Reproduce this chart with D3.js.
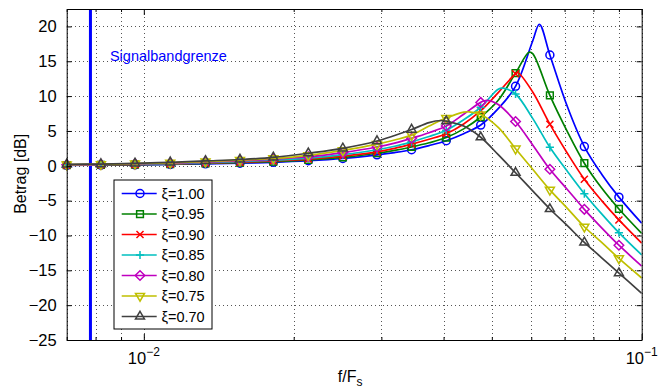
<!DOCTYPE html>
<html>
<head>
<meta charset="utf-8">
<script src="https://cdn.jsdelivr.net/npm/d3@7"></script>
<style>
  body { margin: 0; background: #fff; }
  text { font-family: "Liberation Sans", Arial, Helvetica, sans-serif; }
</style>
</head>
<body>
<svg id="chart" width="668" height="391"></svg>
<script>
// frequencies (f/Fs) where the markers sit
const markerFreq = [0.0070, 0.0082, 0.0096, 0.0113, 0.0133, 0.0156, 0.0182, 0.0214, 0.0251,
  0.0294, 0.0345, 0.0405, 0.0475, 0.0558, 0.0654, 0.0767, 0.0900];
// extra points of the curves (between markers and the right end)
const extraFreq = [0.0319, 0.0374, 0.0439, 0.0515, 0.0604, 0.0709, 0.0831, 0.1000];

const xiLabels = ['ξ=1.00', 'ξ=0.95', 'ξ=0.90', 'ξ=0.85', 'ξ=0.80', 'ξ=0.75', 'ξ=0.70'];

// Betrag [dB] at markerFreq
const dbXi100 = [0.06, 0.09, 0.13, 0.20, 0.28, 0.37, 0.50, 0.72, 1.05, 1.57, 2.30, 3.60, 5.85, 11.4, 15.9, 2.76, -4.50];
const dbXi095 = [0.08, 0.12, 0.17, 0.24, 0.34, 0.45, 0.60, 0.85, 1.20, 1.80, 2.70, 4.05, 7.00, 13.3, 10.1, 0.37, -6.20];
const dbXi090 = [0.10, 0.15, 0.20, 0.28, 0.40, 0.52, 0.70, 0.97, 1.40, 2.00, 3.10, 4.60, 7.90, 13.2, 5.97, -1.93, -7.77];
const dbXi085 = [0.12, 0.17, 0.23, 0.32, 0.45, 0.60, 0.80, 1.10, 1.60, 2.30, 3.45, 5.10, 8.40, 10.3, 2.65, -4.00, -9.60];
const dbXi080 = [0.15, 0.20, 0.27, 0.37, 0.52, 0.70, 0.95, 1.30, 1.90, 2.70, 3.95, 5.70, 9.10, 6.35, -0.50, -6.25, -11.4];
const dbXi075 = [0.18, 0.22, 0.30, 0.42, 0.60, 0.80, 1.05, 1.50, 2.20, 3.10, 4.40, 6.85, 7.35, 2.45, -3.45, -8.75, -13.3];
const dbXi070 = [0.20, 0.25, 0.35, 0.50, 0.70, 0.90, 1.20, 1.80, 2.50, 3.55, 5.20, 6.40, 4.10, -1.00, -6.20, -11.0, -15.4];

// Betrag [dB] at extraFreq
const extraXi100 = [1.90, 2.90, 4.60, 8.20, 17.9, 8.50, -1.20, -8.25];
const extraXi095 = [2.20, 3.30, 5.30, 9.40, 16.1, 4.90, -3.20, -9.70];
const extraXi090 = [2.50, 3.80, 6.00, 10.5, 10.6, 1.80, -5.00, -11.1];
const extraXi085 = [2.80, 4.20, 6.60, 11.0, 6.80, -0.80, -6.90, -12.8];
const extraXi080 = [3.25, 4.75, 7.40, 8.80, 3.00, -3.40, -8.90, -14.4];
const extraXi075 = [3.70, 5.70, 7.70, 5.50, -0.50, -6.10, -11.0, -16.1];
const extraXi070 = [4.35, 6.20, 5.70, 1.60, -3.60, -8.60, -13.2, -18.3];

// resonance peaks [f/Fs, dB]
const peakXi100 = [0.0623, 20.3];
const peakXi095 = [0.0594, 16.3];
const peakXi090 = [0.0564, 13.35];
const peakXi085 = [0.0527, 11.15];
const peakXi080 = [0.0488, 9.40];
const peakXi075 = [0.0450, 7.75];
const peakXi070 = [0.0395, 6.50];

const signalBandEdge = 0.0078125; // 1/128
const yTicks = [-25, -20, -15, -10, -5, 0, 5, 10, 15, 20];

const width = 668;
const height = 391;
const margin = { top: 9, right: 26.3, bottom: 51, left: 66.7 };
const innerW = width - margin.left - margin.right;
const innerH = height - margin.top - margin.bottom;

const x = d3.scaleLog().domain([0.007, 0.1]).range([0, innerW]);
const y = d3.scaleLinear().domain([-25, 22.5]).range([innerH, 0]);

const series = [
  { marks: dbXi100, extra: extraXi100, peak: peakXi100, color: '#0000ff', symbol: d3.symbolCircle, size: 50 },
  { marks: dbXi095, extra: extraXi095, peak: peakXi095, color: '#008000', symbol: d3.symbolSquare2, size: 58 },
  { marks: dbXi090, extra: extraXi090, peak: peakXi090, color: '#ff0000', symbol: d3.symbolX, size: 34 },
  { marks: dbXi085, extra: extraXi085, peak: peakXi085, color: '#00bfbf', symbol: d3.symbolPlus, size: 24 },
  { marks: dbXi080, extra: extraXi080, peak: peakXi080, color: '#bf00bf', symbol: d3.symbolDiamond2, size: 58 },
  { marks: dbXi075, extra: extraXi075, peak: peakXi075, color: '#bfbf00', symbol: d3.symbolTriangle2, size: 58, flip: true },
  { marks: dbXi070, extra: extraXi070, peak: peakXi070, color: '#404040', symbol: d3.symbolTriangle2, size: 58 },
];
series.forEach((s, i) => { s.label = xiLabels[i]; });

const svg = d3.select('#chart');
const g = svg.append('g').attr('transform', `translate(${margin.left},${margin.top})`);

svg.append('defs').append('clipPath').attr('id', 'plotclip')
  .append('rect').attr('width', innerW).attr('height', innerH);

// dotted grid
g.append('g')
  .call(d3.axisBottom(x).tickSize(innerH).tickFormat(''))
  .call((a) => a.select('.domain').remove())
  .selectAll('line')
  .attr('stroke', '#555').attr('stroke-dasharray', '1,3').attr('shape-rendering', 'crispEdges');
g.append('g')
  .call(d3.axisLeft(y).tickValues(yTicks).tickSize(-innerW).tickFormat(''))
  .call((a) => a.select('.domain').remove())
  .selectAll('line')
  .attr('stroke', '#555').attr('stroke-dasharray', '1,3').attr('shape-rendering', 'crispEdges');

// signal band edge
g.append('line')
  .attr('x1', x(signalBandEdge)).attr('x2', x(signalBandEdge))
  .attr('y1', 0).attr('y2', innerH)
  .attr('stroke', '#0000ff').attr('stroke-width', 3);

g.append('text')
  .attr('x', x(0.00855)).attr('y', y(15.8))
  .attr('dy', '0.35em')
  .attr('fill', '#0000ff')
  .style('font-size', '14.5px')
  .text('Signalbandgrenze');

const line = d3.line()
  .x((d) => x(d[0]))
  .y((d) => y(d[1]))
  .curve(d3.curveCatmullRom.alpha(0.5));

function markerPath(s) {
  return d3.symbol().type(s.symbol).size(s.size)();
}

series.forEach((s) => {
  const pts = markerFreq.map((f, i) => [f, s.marks[i]])
    .concat(extraFreq.map((f, i) => [f, s.extra[i]]))
    .concat([s.peak])
    .sort((a, b) => a[0] - b[0]);

  const sg = g.append('g');
  sg.append('path')
    .datum(pts)
    .attr('clip-path', 'url(#plotclip)')
    .attr('fill', 'none')
    .attr('stroke', s.color)
    .attr('stroke-width', 1.7)
    .attr('d', line);

  sg.selectAll('path.mk')
    .data(markerFreq.map((f, i) => [f, s.marks[i]]))
    .enter()
    .append('path')
    .attr('class', 'mk')
    .attr('d', markerPath(s))
    .attr('transform', (d) => `translate(${x(d[0])},${y(d[1])})${s.flip ? ' rotate(180)' : ''}`)
    .attr('fill', 'none')
    .attr('stroke', s.color)
    .attr('stroke-width', 1.5);
});

// frame + inward ticks on all four sides
const tickMajor = (v) => Math.abs(Math.log10(v) - Math.round(Math.log10(v))) < 1e-9;
const xt = x.ticks();

const bottomAxis = g.append('g')
  .attr('transform', `translate(0,${innerH})`)
  .call(d3.axisBottom(x).tickValues(xt).tickSizeOuter(0).tickFormat(''));
bottomAxis.selectAll('.tick line').attr('y2', (d) => (tickMajor(d) ? -6 : -3));

const topAxis = g.append('g')
  .call(d3.axisTop(x).tickValues(xt).tickSizeOuter(0).tickFormat(''));
topAxis.selectAll('.tick line').attr('y2', (d) => (tickMajor(d) ? 6 : 3));

g.append('g')
  .call(d3.axisLeft(y).tickValues(yTicks).tickSizeInner(-5).tickSizeOuter(0).tickPadding(10)
    .tickFormat((d) => (d < 0 ? '\u2212' + Math.abs(d) : d)))
  .call((a) => a.selectAll('text').style('font-size', '16.5px').attr('fill', '#000'));

g.append('g')
  .attr('transform', `translate(${innerW},0)`)
  .call(d3.axisRight(y).tickValues(yTicks).tickSizeInner(-5).tickSizeOuter(0).tickFormat(''));

g.selectAll('.domain').attr('stroke', '#000').attr('stroke-width', 1);
g.selectAll('.tick line').filter(function () { return this.getAttribute('stroke-dasharray') == null; })
  .attr('stroke', '#000');

// x tick labels 10^-2, 10^-1
const xLabelTicks = xt.filter(tickMajor);
const xl = g.append('g').selectAll('text')
  .data(xLabelTicks)
  .enter()
  .append('text')
  .attr('x', (d) => x(d))
  .attr('y', innerH + 24)
  .attr('text-anchor', 'middle')
  .style('font-size', '16.5px');
xl.append('tspan').text('10');
xl.append('tspan')
  .attr('dy', -8)
  .style('font-size', '12px')
  .text((d) => '\u2212' + Math.round(-Math.log10(d)));

// axis titles
const xTitle = svg.append('text')
  .attr('x', margin.left + innerW / 2 - 4)
  .attr('y', 382)
  .attr('text-anchor', 'middle')
  .style('font-size', '16px');
xTitle.append('tspan').text('f/F');
xTitle.append('tspan').attr('dy', 4).style('font-size', '12px').text('s');

svg.append('text')
  .attr('transform', `translate(26,${margin.top + y(0) + 8}) rotate(-90)`)
  .attr('text-anchor', 'middle')
  .style('font-size', '16px')
  .text('Betrag [dB]');

// legend
const legend = svg.append('g').attr('transform', 'translate(114,180)');
legend.append('rect')
  .attr('width', 98).attr('height', 149)
  .attr('fill', '#fff').attr('stroke', '#000').attr('stroke-width', 1);

const items = legend.selectAll('g.item')
  .data(series)
  .enter()
  .append('g')
  .attr('class', 'item')
  .attr('transform', (d, i) => `translate(0,${13.5 + i * 20.5})`);
items.append('line')
  .attr('x1', 7.7).attr('x2', 42.7)
  .attr('stroke', (d) => d.color).attr('stroke-width', 1.7);
items.append('path')
  .attr('d', (d) => markerPath(d))
  .attr('transform', (d) => `translate(26,0)${d.flip ? ' rotate(180)' : ''}`)
  .attr('fill', 'none')
  .attr('stroke', (d) => d.color)
  .attr('stroke-width', 1.5);
items.append('text')
  .attr('x', 47.5)
  .attr('dy', '0.36em')
  .style('font-size', '14.5px')
  .text((d) => d.label);
</script>
</body>
</html>
